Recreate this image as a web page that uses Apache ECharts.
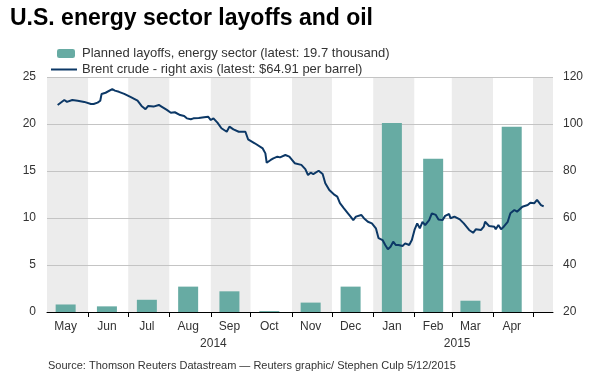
<!DOCTYPE html>
<html>
<head>
<meta charset="utf-8">
<script src="https://cdn.jsdelivr.net/npm/echarts@6/dist/echarts.min.js"></script>
<style>
    html, body { margin: 0; padding: 0; background: #fff; }
    #layoff_chart { width: 600px; height: 376px; }
</style>
</head>
<body>
<div id="layoff_chart"></div>
<script>
// axis span, one category per day
var startDay = '2014-05-01';
var endDay = '2015-05-16';

// planned layoffs (thousand), one bar per month
var layoffDates = ['2014-05-15', '2014-06-15', '2014-07-15', '2014-08-15', '2014-09-15', '2014-10-15',
    '2014-11-15', '2014-12-15', '2015-01-15', '2015-02-15', '2015-03-15', '2015-04-15'];
var monthLabels = ['May', 'Jun', 'Jul', 'Aug', 'Sep', 'Oct', 'Nov', 'Dec', 'Jan', 'Feb', 'Mar', 'Apr'];
var layoffValues = [0.8, 0.6, 1.3, 2.7, 2.2, 0.1, 1.0, 2.7, 20.1, 16.3, 1.2, 19.7];

var yearLabelDates = ['2014-09-03', '2015-03-05'];
var yearLabels = ['2014', '2015'];

// Brent crude, $ per barrel
var brentDates = ['2014-05-09', '2014-05-14', '2014-05-16', '2014-05-17', '2014-05-20', '2014-05-24', '2014-05-29',
    '2014-06-03', '2014-06-05', '2014-06-08', '2014-06-10', '2014-06-11', '2014-06-14', '2014-06-19', '2014-06-21',
    '2014-06-24', '2014-06-28', '2014-07-03', '2014-07-08', '2014-07-11', '2014-07-14', '2014-07-16', '2014-07-20',
    '2014-07-24', '2014-07-26', '2014-07-30', '2014-08-02', '2014-08-05', '2014-08-09', '2014-08-12', '2014-08-14',
    '2014-08-17', '2014-08-19', '2014-08-23', '2014-08-27', '2014-08-30', '2014-09-01', '2014-09-03', '2014-09-06',
    '2014-09-09', '2014-09-13', '2014-09-15', '2014-09-18', '2014-09-22', '2014-09-27', '2014-09-29', '2014-10-04',
    '2014-10-10', '2014-10-12', '2014-10-13', '2014-10-16', '2014-10-18', '2014-10-21', '2014-10-23', '2014-10-27',
    '2014-10-30', '2014-11-03', '2014-11-08', '2014-11-11', '2014-11-13', '2014-11-15', '2014-11-17', '2014-11-21',
    '2014-11-24', '2014-11-26', '2014-11-29', '2014-11-30', '2014-12-03', '2014-12-05', '2014-12-07', '2014-12-10',
    '2014-12-13', '2014-12-15', '2014-12-17', '2014-12-19', '2014-12-20', '2014-12-23', '2014-12-25', '2014-12-28',
    '2014-12-31', '2015-01-03', '2015-01-05', '2015-01-08', '2015-01-10', '2015-01-12', '2015-01-14', '2015-01-16',
    '2015-01-18', '2015-01-20', '2015-01-23', '2015-01-25', '2015-01-28', '2015-01-30', '2015-02-01', '2015-02-03',
    '2015-02-05', '2015-02-07', '2015-02-09', '2015-02-12', '2015-02-14', '2015-02-17', '2015-02-19', '2015-02-22',
    '2015-02-24', '2015-02-27', '2015-02-28', '2015-03-03', '2015-03-07', '2015-03-10', '2015-03-14', '2015-03-17',
    '2015-03-19', '2015-03-23', '2015-03-25', '2015-03-26', '2015-03-29', '2015-04-02', '2015-04-03', '2015-04-05',
    '2015-04-07', '2015-04-09', '2015-04-12', '2015-04-14', '2015-04-17', '2015-04-19', '2015-04-23', '2015-04-27',
    '2015-04-29', '2015-05-02', '2015-05-04', '2015-05-07', '2015-05-09'];
var brentValues = [108.1, 110.2, 109.4, 109.9, 110.2, 109.9, 109.4,
    108.5, 108.5, 109.1, 109.9, 112.8, 113.3, 114.8, 114.2,
    113.7, 112.8, 111.4, 109.9, 107.7, 106.3, 107.7, 107.4,
    108.1, 107.4, 106.0, 104.8, 105.0, 103.8, 103.4, 102.4,
    102.0, 102.4, 102.6, 102.9, 103.1, 101.7, 102.4, 100.6,
    98.2, 96.7, 98.9, 97.7, 96.7, 96.7, 93.5, 91.8,
    89.6, 87.5, 83.5, 84.7, 85.4, 86.1, 85.8, 86.8,
    86.1, 83.3, 82.6, 80.8, 78.3, 79.3, 78.7, 80.1,
    78.7, 74.8, 71.9, 71.2, 69.8, 69.1, 66.3, 64.1,
    62.0, 60.6, 59.1, 60.6, 59.9, 61.3, 59.9, 58.4,
    57.7, 55.6, 51.4, 50.6, 48.5, 46.7, 47.8, 49.9,
    48.5, 48.5, 48.1, 49.2, 48.5, 50.6, 54.9, 57.7,
    55.6, 58.4, 57.0, 59.1, 62.0, 61.3, 59.4, 59.1,
    60.9, 61.7, 59.9, 60.6, 59.4, 57.7, 54.9, 53.7,
    55.2, 54.9, 56.3, 58.4, 56.6, 56.3, 55.2, 57.0,
    55.2, 56.3, 58.4, 62.0, 63.4, 62.7, 64.8, 65.5,
    66.5, 66.3, 67.7, 65.5, 64.9];

var layoffName = 'Planned layoffs, energy sector (latest: 19.7 thousand)';
var brentName = 'Brent crude - right axis (latest: $64.91 per barrel)';
var fontFamily = '"Liberation Sans", Arial, sans-serif';

function pad(n) {
    return n < 10 ? '0' + n : '' + n;
}

var days = (function () {
    var res = [];
    var d = new Date(startDay + 'T00:00:00Z');
    var end = new Date(endDay + 'T00:00:00Z');
    while (d <= end) {
        res.push(d.getUTCFullYear() + '-' + pad(d.getUTCMonth() + 1) + '-' + pad(d.getUTCDate()));
        d = new Date(d.getTime() + 86400000);
    }
    return res;
})();

var layoffData = layoffDates.map(function (d, i) { return [d, layoffValues[i]]; });
var brentData = brentDates.map(function (d, i) { return [d, brentValues[i]]; });

function isMonthStart(index, value) {
    return value.slice(8) === '01';
}

var layoffChart = echarts.init(document.getElementById('layoff_chart'));
var layoffOption = {
    animation: false,
    textStyle: { fontFamily: fontFamily },
    title: [
        {
            text: 'U.S. energy sector layoffs and oil',
            left: 5,
            top: 2,
            textStyle: { fontSize: 23, fontWeight: 'bold', color: '#000', fontFamily: fontFamily }
        },
        {
            text: 'Source: Thomson Reuters Datastream \u2014 Reuters graphic/ Stephen Culp 5/12/2015',
            left: 43,
            top: 355,
            textStyle: { fontSize: 11, fontWeight: 'normal', color: '#333', fontFamily: fontFamily }
        }
    ],
    legend: [
        {
            data: [layoffName],
            left: 52,
            top: 42,
            itemWidth: 18,
            itemHeight: 9,
            textStyle: { fontSize: 13, color: '#333', padding: [0, 0, 0, 2] }
        },
        {
            data: [{ name: brentName, icon: 'rect' }],
            left: 46,
            top: 58,
            itemWidth: 26,
            itemHeight: 2,
            itemStyle: { color: '#0c3866' },
            textStyle: { fontSize: 13, color: '#333' }
        }
    ],
    grid: { left: 47, right: 47, top: 77, bottom: 64 },
    xAxis: [
        {
            // shaded months only
            type: 'category',
            data: days,
            boundaryGap: false,
            position: 'bottom',
            z: 0,
            axisLine: { show: false },
            axisTick: { show: false },
            axisLabel: { show: false },
            splitLine: { show: false },
            splitArea: {
                show: true,
                interval: function (index, value) {
                    return isMonthStart(index, value) || index === days.length - 1;
                },
                areaStyle: { color: ['#ececec', '#ffffff'] }
            }
        },
        {
            type: 'category',
            data: days,
            boundaryGap: false,
            position: 'bottom',
            z: 5,
            axisLine: { lineStyle: { color: '#000', width: 1 } },
            axisTick: {
                length: 5,
                lineStyle: { color: '#000' },
                interval: function (index, value) {
                    return index > 0 && isMonthStart(index, value);
                }
            },
            axisLabel: {
                margin: 6,
                color: '#333',
                fontSize: 12,
                lineHeight: 17,
                interval: function (index, value) {
                    return layoffDates.indexOf(value) >= 0 || yearLabelDates.indexOf(value) >= 0;
                },
                formatter: function (value) {
                    var i = layoffDates.indexOf(value);
                    if (i >= 0) return monthLabels[i];
                    var j = yearLabelDates.indexOf(value);
                    if (j >= 0) return '\n' + yearLabels[j];
                    return '';
                }
            },
            splitLine: { show: false },
            splitArea: { show: false }
        }
    ],
    yAxis: [
        {
            type: 'value',
            min: 0,
            max: 25,
            interval: 5,
            z: 1,
            axisLine: { show: false },
            axisTick: { show: false },
            axisLabel: { color: '#333', fontSize: 12, margin: 11 },
            splitLine: { lineStyle: { color: '#c4c4c4', width: 1 } }
        },
        {
            type: 'value',
            min: 20,
            max: 120,
            interval: 20,
            z: 1,
            axisLine: { show: false },
            axisTick: { show: false },
            axisLabel: { color: '#333', fontSize: 12, margin: 10 },
            splitLine: { show: false }
        }
    ],
    series: [
        {
            name: layoffName,
            type: 'bar',
            z: 3,
            barWidth: 20,
            xAxisIndex: 0,
            yAxisIndex: 0,
            itemStyle: { color: '#67aba3' },
            data: layoffData
        },
        {
            name: brentName,
            type: 'line',
            z: 4,
            xAxisIndex: 0,
            yAxisIndex: 1,
            symbol: 'none',
            lineStyle: { color: '#0c3866', width: 2 },
            itemStyle: { color: '#0c3866' },
            data: brentData
        }
    ]
};

layoffChart.setOption(layoffOption);
</script>
</body>
</html>
